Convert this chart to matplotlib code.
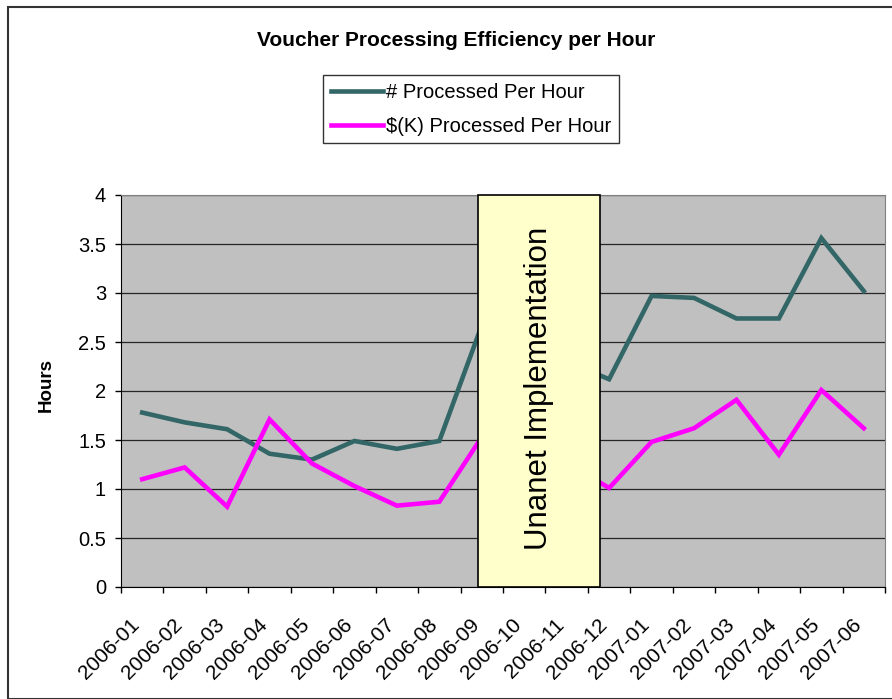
import matplotlib
matplotlib.use("Agg")
import matplotlib.pyplot as plt
from matplotlib.patches import Rectangle
import matplotlib.transforms as mtransforms
import numpy as np

plt.rcParams['font.family'] = ['Liberation Sans', 'DejaVu Sans']

months = ["2006-01", "2006-02", "2006-03", "2006-04", "2006-05", "2006-06",
          "2006-07", "2006-08", "2006-09", "2006-10", "2006-11", "2006-12",
          "2007-01", "2007-02", "2007-03", "2007-04", "2007-05", "2007-06"]
count_per_hour = [1.78, 1.68, 1.61, 1.36, 1.30, 1.49, 1.41, 1.49, 2.67, 2.50,
                  2.30, 2.12, 2.97, 2.95, 2.74, 2.74, 3.56, 3.02]
dollars_per_hour = [1.10, 1.22, 0.82, 1.71, 1.26, 1.03, 0.83, 0.87, 1.53, 1.40,
                    1.27, 1.01, 1.48, 1.62, 1.91, 1.35, 2.01, 1.62]
series_names = ["# Processed Per Hour", "$(K) Processed Per Hour"]
y_ticks = [0, 0.5, 1, 1.5, 2, 2.5, 3, 3.5, 4]
annotation = "Unanet Implementation"

W, H = 892, 699
fig = plt.figure(figsize=(W / 100, H / 100), dpi=100)

# figure border
fig.patches.append(Rectangle((8 / W, 0), 1, 1 - 7 / H, transform=fig.transFigure,
                             fill=False, edgecolor='#333333', linewidth=1.5))

L, R, T, B = 121, 885, 195, 587
ax = fig.add_axes([L / W, 1 - B / H, (R - L) / W, (B - T) / H])
ax.set_facecolor('#C0C0C0')

x = np.arange(len(months))
ax.plot(x, count_per_hour, color='#336666', linewidth=3.3, label=series_names[0],
        solid_joinstyle='miter', zorder=3)
ax.plot(x, dollars_per_hour, color='#FF00FF', linewidth=3.3, label=series_names[1],
        solid_joinstyle='miter', zorder=3)

ax.set_xlim(-0.5, len(months) - 0.5)
ax.set_ylim(0, 4)
ax.set_yticks(y_ticks)
ax.set_yticklabels([f"{v:g}" for v in y_ticks], fontsize=14.5)
ax.yaxis.grid(True, color='#000000', linewidth=0.9, alpha=0.8)
ax.set_axisbelow(True)

ax.set_xticks(np.arange(len(months) + 1) - 0.5)
ax.set_xticklabels([])
ax.set_xticks(x, minor=True)
ax.set_xticklabels(months, minor=True, rotation=45, ha='right', va='top',
                   rotation_mode='anchor', fontsize=15)
ax.tick_params(axis='x', which='major', direction='out', length=4.3, width=1)
ax.tick_params(axis='x', which='minor', length=0, pad=20)
ax.tick_params(axis='y', direction='out', length=4.3, width=1, pad=6.5)
shift = mtransforms.ScaledTranslation(-12 / 100, 0, fig.dpi_scale_trans)
for lab in ax.get_xticklabels(minor=True):
    lab.set_transform(lab.get_transform() + shift)

for s in ['top', 'right']:
    ax.spines[s].set_color('#808080')
for s in ['left', 'bottom']:
    ax.spines[s].set_color('#000000')

ax.set_ylabel("Hours", fontsize=13.5, fontweight='bold')
ax.yaxis.set_label_coords((55 - L) / (R - L), (B - 385) / (B - T))

# annotation box (spans full plot height)
bx0 = (478 - L) / (R - L)
bx1 = (600 - L) / (R - L)
ax.add_patch(Rectangle((bx0, 0), bx1 - bx0, 1, transform=ax.transAxes,
                       facecolor='#FFFFCC', edgecolor='#000000', linewidth=1.2,
                       zorder=5, clip_on=False))
ax.text((bx0 + bx1) / 2, (B - 388) / (B - T), annotation, transform=ax.transAxes,
        rotation=90, ha='center', va='center', fontsize=22.5, zorder=6)

fig.text(456 / W, 1 - 40 / H, "Voucher Processing Efficiency per Hour",
         ha='center', va='center', fontsize=15, fontweight='bold')

leg = fig.legend(loc='upper left', bbox_to_anchor=(323 / W, 1 - 75 / H),
                 fontsize=14.5, frameon=True, fancybox=False, handlelength=2.6,
                 handletextpad=0.15, borderpad=0.38, labelspacing=0.75,
                 borderaxespad=0)
leg.get_frame().set_edgecolor('#000000')
leg.get_frame().set_linewidth(1.0)

fig.savefig("out.png", dpi=100)
